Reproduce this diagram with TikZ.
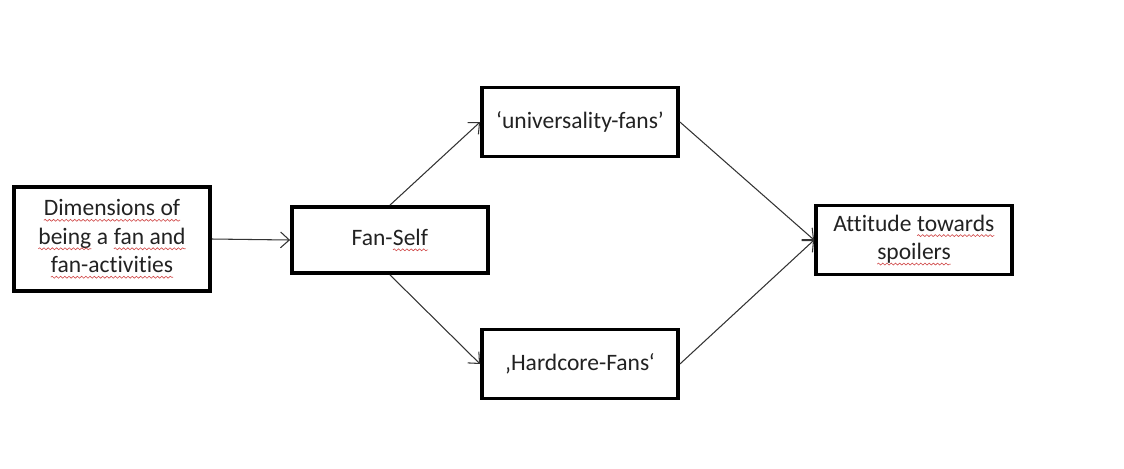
\documentclass[tikz,border=0pt]{standalone}
\usepackage{fontspec}
\setmainfont{Carlito}[Ligatures=NoCommon]
\usetikzlibrary{arrows.meta}
\usetikzlibrary{decorations.pathmorphing}
\definecolor{boxtext}{HTML}{222222}
\definecolor{spellred}{HTML}{D04848}
\definecolor{arrowgray}{HTML}{333333}
\newcommand\spellwave[1]{\tikz[baseline=(w.base)]{\node(w)[draw=none, inner sep=0pt, outer sep=0pt, minimum width=0pt, minimum height=0pt]{#1};
		\draw[spellred, line width=0.35pt, decorate, decoration={snake, amplitude=0.55pt, segment length=2.4pt}] ([yshift=-2.6pt]w.base west) -- ([yshift=-2.6pt]w.base east);}}
\tikzset{
	fanbox/.style={draw, line width=2.2pt, minimum width=3.92cm, minimum height=1.38cm, align=center, text=boxtext, font=\fontsize{13.4}{16.2}\selectfont, inner sep=2pt},
	fanarrow/.style={draw=arrowgray, line width=0.6pt, -{Straight Barb[length=5pt, width=9pt]}}
}

\begin{document}
\begin{tikzpicture}[x=0.02cm, y=-0.02cm]
		\useasboundingbox (0, 0) rectangle (1124, 468);
		\node(dims)[fanbox, minimum height=2.08cm] at (112, 239) {\spellwave{Dimensions of}\\\spellwave{being} a \spellwave{fan and}\\\spellwave{fan-activities}};
		\node(self)[fanbox, minimum height=1.32cm] at (390, 240) {Fan-\spellwave{Self}};
		\node(univ)[fanbox] at (580, 122) {‘universality-fans’};
		\node(hard)[fanbox] at (580, 364) {‚Hardcore-Fans‘};
		\node(spoil)[fanbox] at (914, 240) {Attitude \spellwave{towards}\\\spellwave{spoilers}};
		\draw[fanarrow] (dims.east) -- (self.west);
		\draw[fanarrow] (self.north) -- (univ.west);
		\draw[fanarrow] (self.south) -- (hard.west);
		\draw[fanarrow] (univ.east) -- (spoil.west);
		\draw[fanarrow] (hard.east) -- (spoil.west);
\end{tikzpicture}
\end{document}
